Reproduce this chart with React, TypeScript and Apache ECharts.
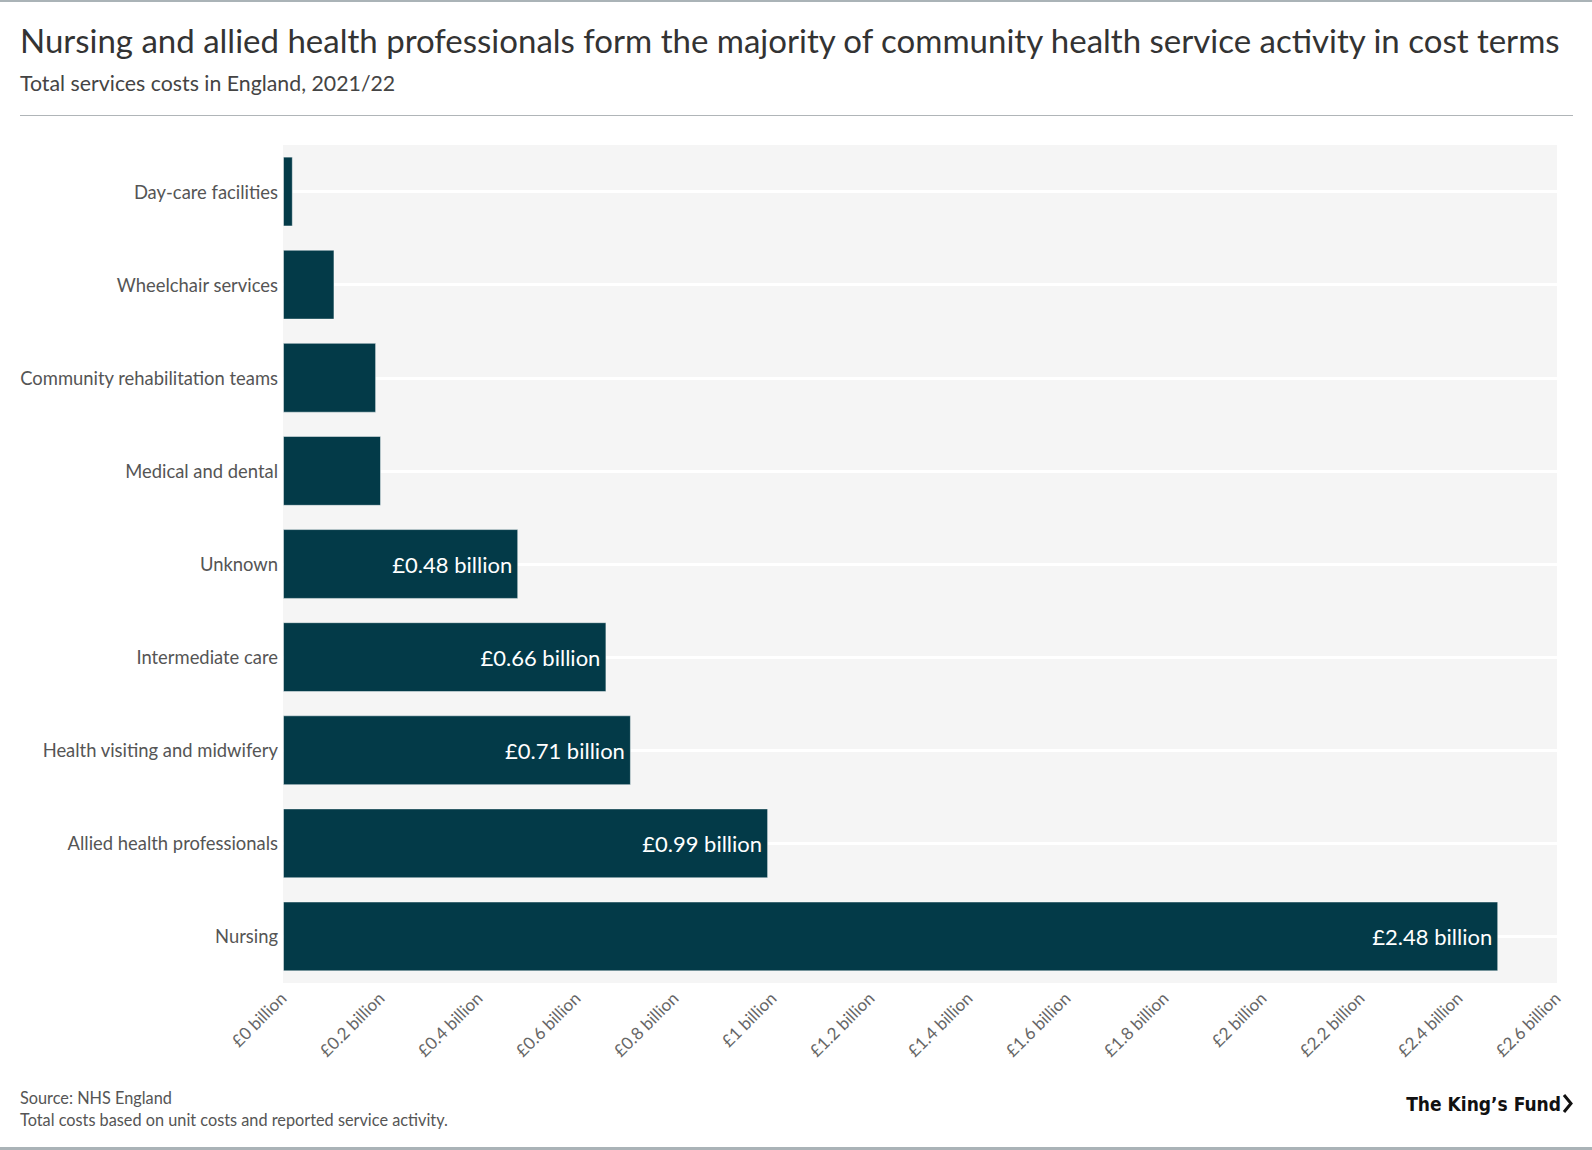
import React, { useEffect, useRef } from "react";
import * as echarts from "echarts";

const categories = [
  "Day-care facilities",
  "Wheelchair services",
  "Community rehabilitation teams",
  "Medical and dental",
  "Unknown",
  "Intermediate care",
  "Health visiting and midwifery",
  "Allied health professionals",
  "Nursing",
];
const values = [0.02, 0.105, 0.19, 0.2, 0.48, 0.66, 0.71, 0.99, 2.48];
const labelThreshold = 0.3;

const titleText =
  "Nursing and allied health professionals form the majority of community health service activity in cost terms";
const subtitleText = "Total services costs in England, 2021/22";
const sourceText = "Source: NHS England";
const noteText = "Total costs based on unit costs and reported service activity.";
const logoText = "The King\u2019s Fund";

const FONT = "'Source Sans Pro', Lato, sans-serif";
const BAR = "#033a48";

export default function App() {
  const ref = useRef<HTMLDivElement>(null);
  useEffect(() => {
    document.body.style.margin = "0";
    const chart = echarts.init(ref.current!, null, { renderer: "svg" });
    chart.setOption({
      animation: false,
      backgroundColor: "#ffffff",
      textStyle: { fontFamily: FONT },
      grid: {
        left: 283,
        right: 35,
        top: 145,
        bottom: 167,
        show: true,
        backgroundColor: "#f5f5f5",
        borderWidth: 0,
      },
      xAxis: {
        type: "value",
        min: 0,
        max: 2.6,
        interval: 0.2,
        axisLine: { show: false },
        axisTick: { show: false },
        splitLine: { show: false },
        axisLabel: {
          rotate: 45,
          margin: 12,
          fontSize: 17,
          color: "#666666",
          fontFamily: FONT,
          formatter: (v: number) => `£${+v.toFixed(1)} billion`,
        },
      },
      yAxis: {
        type: "category",
        data: categories,
        inverse: true,
        axisLine: { show: false },
        axisTick: { show: false },
        axisLabel: { margin: 5, fontSize: 18.4, color: "#555555", fontFamily: FONT },
        splitLine: {
          show: true,
          alignWithLabel: true,
          lineStyle: { color: "#ffffff", width: 3 },
        },
      },
      series: [
        {
          type: "bar",
          data: values,
          barCategoryGap: "25%",
          itemStyle: {
            color: BAR,
            borderColor: "rgba(255,255,255,0.45)",
            borderWidth: 1,
          },
          label: {
            show: true,
            position: "insideRight",
            distance: 6,
            color: "#ffffff",
            fontSize: 22,
            fontFamily: FONT,
            formatter: (p: any) => (p.value >= labelThreshold ? `£${p.value} billion` : ""),
          },
        },
      ],
      graphic: [
        { type: "rect", shape: { x: 0, y: 0, width: 1592, height: 2 }, style: { fill: "#aab3b7" } },
        { type: "rect", shape: { x: 0, y: 1147, width: 1592, height: 3 }, style: { fill: "#aab3b7" } },
        {
          type: "text",
          x: 20,
          y: 40,
          style: {
            text: titleText,
            fontSize: 33,
            fontFamily: FONT,
            fill: "#333333",
            verticalAlign: "middle",
          },
        },
        {
          type: "text",
          x: 20,
          y: 83,
          style: {
            text: subtitleText,
            fontSize: 21.3,
            fontFamily: FONT,
            fill: "#444444",
            verticalAlign: "middle",
          },
        },
        {
          type: "line",
          shape: { x1: 20, y1: 115.5, x2: 1573, y2: 115.5 },
          style: { stroke: "#b0b5b8", lineWidth: 1 },
        },
        {
          type: "text",
          x: 20,
          y: 1097,
          style: { text: sourceText, fontSize: 16.3, fontFamily: FONT, fill: "#555555", verticalAlign: "middle" },
        },
        {
          type: "text",
          x: 20,
          y: 1119,
          style: { text: noteText, fontSize: 16.3, fontFamily: FONT, fill: "#555555", verticalAlign: "middle" },
        },
        {
          type: "text",
          x: 1561,
          y: 1104,
          style: {
            text: logoText,
            fontSize: 19,
            fontWeight: "bold",
            fontFamily: "'DejaVu Sans Condensed', 'DejaVu Sans', sans-serif",
            fill: "#111111",
            align: "right",
            verticalAlign: "middle",
          },
        },
        {
          type: "polyline",
          shape: { points: [[1564, 1095], [1571, 1103.5], [1564, 1112]] },
          style: { stroke: "#111111", lineWidth: 3, fill: "none" },
        },
      ],
    });
    return () => chart.dispose();
  }, []);
  return <div ref={ref} style={{ width: 1592, height: 1150 }} />;
}
